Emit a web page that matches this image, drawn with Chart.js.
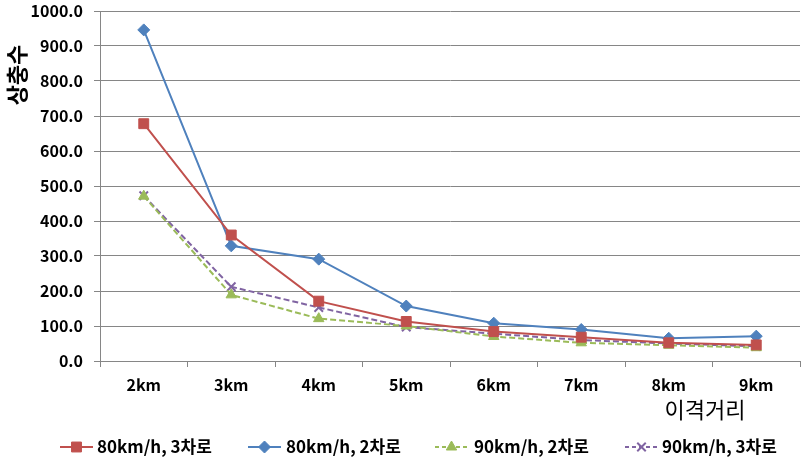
<!DOCTYPE html>
<html>
<head>
<meta charset="utf-8">
<script src="https://cdn.jsdelivr.net/npm/chart.js"></script>
<style>
  html, body { margin: 0; padding: 0; background: #fff; }
  #wrap { width: 808px; height: 464px; position: relative; }
</style>
</head>
<body>
<div id="wrap"><canvas id="chart"></canvas></div>
<script>
const categories = ['2km', '3km', '4km', '5km', '6km', '7km', '8km', '9km']
const speed80lane3 = [678, 360, 171, 113, 84, 68, 52, 46]
const speed80lane2 = [946, 329, 291, 157, 108, 90, 65, 71]
const speed90lane2 = [471, 189, 121, 100, 70, 52, 45, 38]
const speed90lane3 = [472, 212, 153, 97, 78, 60, 50, 42]
const yTicks = [0, 100, 200, 300, 400, 500, 600, 700, 800, 900, 1000]

const FONT = '"Noto Sans CJK KR", "Noto Sans", sans-serif'
const gridColor = '#868686'

const series = [
    { label: '80km/h, 3차로', data: speed80lane3, color: '#C0504D', point: 'rect', radius: 7, dash: [] },
    { label: '80km/h, 2차로', data: speed80lane2, color: '#4F81BD', point: 'rectRot', radius: 6, dash: [] },
    { label: '90km/h, 2차로', data: speed90lane2, color: '#9BBB59', point: 'triangle', radius: 6, dash: [6, 3] },
    { label: '90km/h, 3차로', data: speed90lane3, color: '#8064A2', point: 'crossRot', radius: 6, dash: [6, 3] }
]

// legend spots on the bottom row: line start x, text start x
const legendPos = [[60, 97], [248, 286], [435, 474], [625, 662]]

const titlesAndLegend = {
    id: 'titlesAndLegend',
    afterDraw(chart) {
        const ctx = chart.ctx
        ctx.save()
        // y title
        ctx.fillStyle = '#000'
        ctx.font = 'bold 22px ' + FONT
        ctx.translate(17, 75)
        ctx.rotate(-Math.PI / 2)
        ctx.textAlign = 'center'
        ctx.textBaseline = 'middle'
        ctx.fillText('상충수', 0, 0)
        ctx.restore()

        ctx.save()
        ctx.fillStyle = '#000'
        ctx.font = '22px ' + FONT
        ctx.textAlign = 'center'
        ctx.textBaseline = 'middle'
        ctx.fillText('이격거리', 705, 410)
        ctx.restore()

        // legend
        const y = 447
        series.forEach((s, i) => {
            const [lx, tx] = legendPos[i]
            ctx.save()
            ctx.strokeStyle = s.color
            ctx.lineWidth = 2
            ctx.setLineDash(s.dash.length ? [4, 3] : [])
            ctx.beginPath()
            ctx.moveTo(lx, y)
            ctx.lineTo(lx + 33, y)
            ctx.stroke()
            ctx.setLineDash([])
            ctx.fillStyle = s.color
            ctx.strokeStyle = s.color
            ctx.lineWidth = s.point === 'crossRot' ? 2 : 1
            if (Chart.helpers && Chart.helpers.drawPoint) {
                Chart.helpers.drawPoint(ctx, { pointStyle: s.point, radius: s.radius, rotation: 0, borderWidth: ctx.lineWidth }, lx + 16.5, y)
            }
            ctx.fillStyle = '#000'
            ctx.font = 'bold 17px ' + FONT
            ctx.textAlign = 'left'
            ctx.textBaseline = 'middle'
            ctx.fillText(s.label, tx, y)
            ctx.restore()
        })
    }
}

new Chart(document.getElementById('chart'), {
    type: 'line',
    data: {
        labels: categories,
        datasets: series.map(s => ({
            label: s.label,
            data: s.data,
            borderColor: s.color,
            backgroundColor: s.color,
            borderWidth: 2,
            borderDash: s.dash,
            pointStyle: s.point,
            pointRadius: s.radius,
            pointBorderWidth: s.point === 'crossRot' ? 2 : 1,
            tension: 0,
            fill: false
        }))
    },
    options: {
        responsive: true,
        maintainAspectRatio: false,
        animation: false,
        layout: { padding: { left: 0, right: 7, top: 11, bottom: 0 } },
        plugins: {
            legend: { display: false },
            tooltip: { enabled: false }
        },
        scales: {
            x: {
                offset: true,
                grid: { offset: true, drawOnChartArea: false, drawTicks: true, tickLength: 6, color: gridColor },
                border: { color: gridColor, width: 1 },
                ticks: { color: '#000', padding: 8, font: { family: FONT, size: 16, weight: 'bold' } },
                afterFit(scale) {
                    scale.height = 103
                    scale.paddingLeft = 0
                    scale.paddingRight = 0
                }
            },
            y: {
                min: 0,
                max: 1000,
                afterBuildTicks(scale) { scale.ticks = yTicks.map(v => ({ value: v })) },
                grid: { color: gridColor, tickLength: 6 },
                border: { color: gridColor, width: 1 },
                ticks: {
                    color: '#000',
                    padding: 11,
                    font: { family: FONT, size: 16, weight: 'bold' },
                    callback: v => Number(v).toFixed(1)
                },
                afterFit(scale) {
                    scale.width = 100
                    scale.paddingTop = 0
                    scale.paddingBottom = 0
                }
            }
        }
    },
    plugins: [titlesAndLegend]
})
</script>
</body>
</html>
